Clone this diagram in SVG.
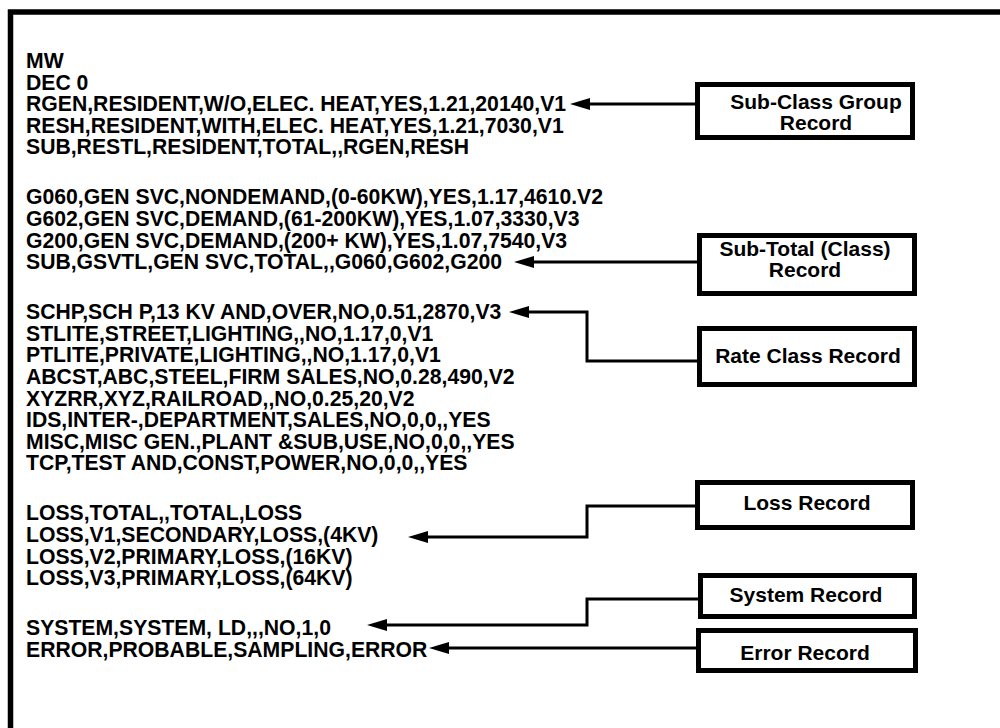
<svg xmlns="http://www.w3.org/2000/svg" width="1000" height="728" viewBox="0 0 1000 728">
<style>
  .t { font-family: "Liberation Sans", Arial, sans-serif; font-weight: bold; font-size: 21.2px; fill: #000; }
  .bt { font-family: "Liberation Sans", Arial, sans-serif; font-weight: bold; font-size: 21px; fill: #000; text-anchor: middle; }
  .box { fill: #fff; stroke: #000; stroke-width: 5; }
  .conn { fill: none; stroke: #000; stroke-width: 3; marker-end: url(#arr); }
</style>
<defs>
  <marker id="arr" markerUnits="userSpaceOnUse" markerWidth="20" markerHeight="12" refX="10" refY="6" orient="auto" viewBox="0 0 20 12">
    <path d="M0,0 L20,6 L0,12 Z" fill="#000"/>
  </marker>
</defs>
<rect x="0" y="0" width="1000" height="728" fill="#fff"/>
<path d="M10.5,728 V12 H1005" fill="none" stroke="#000" stroke-width="5.5"/>

<g id="records-text" class="t">
  <text x="26" y="68">MW</text>
  <text x="26" y="89.6">DEC 0</text>
  <text x="26" y="111.2">RGEN,RESIDENT,W/O,ELEC. HEAT,YES,1.21,20140,V1</text>
  <text x="26" y="132.8">RESH,RESIDENT,WITH,ELEC. HEAT,YES,1.21,7030,V1</text>
  <text x="26" y="154.4">SUB,RESTL,RESIDENT,TOTAL,,RGEN,RESH</text>
  <text x="26" y="204.4">G060,GEN SVC,NONDEMAND,(0-60KW),YES,1.17,4610.V2</text>
  <text x="26" y="226">G602,GEN SVC,DEMAND,(61-200KW),YES,1.07,3330,V3</text>
  <text x="26" y="247.6">G200,GEN SVC,DEMAND,(200+ KW),YES,1.07,7540,V3</text>
  <text x="26" y="269.2">SUB,GSVTL,GEN SVC,TOTAL,,G060,G602,G200</text>
  <text x="26" y="319.2">SCHP,SCH P,13 KV AND,OVER,NO,0.51,2870,V3</text>
  <text x="26" y="340.8">STLITE,STREET,LIGHTING,,NO,1.17,0,V1</text>
  <text x="26" y="362.4">PTLITE,PRIVATE,LIGHTING,,NO,1.17,0,V1</text>
  <text x="26" y="384">ABCST,ABC,STEEL,FIRM SALES,NO,0.28,490,V2</text>
  <text x="26" y="405.6">XYZRR,XYZ,RAILROAD,,NO,0.25,20,V2</text>
  <text x="26" y="427.2">IDS,INTER-,DEPARTMENT,SALES,NO,0,0,,YES</text>
  <text x="26" y="448.8">MISC,MISC GEN.,PLANT &amp;SUB,USE,NO,0,0,,YES</text>
  <text x="26" y="470.4">TCP,TEST AND,CONST,POWER,NO,0,0,,YES</text>
  <text x="26" y="520.4">LOSS,TOTAL,,TOTAL,LOSS</text>
  <text x="26" y="542">LOSS,V1,SECONDARY,LOSS,(4KV)</text>
  <text x="26" y="563.6">LOSS,V2,PRIMARY,LOSS,(16KV)</text>
  <text x="26" y="585.2">LOSS,V3,PRIMARY,LOSS,(64KV)</text>
  <text x="26" y="635.2">SYSTEM,SYSTEM, LD,,,NO,1,0</text>
  <text x="26" y="656.8">ERROR,PROBABLE,SAMPLING,ERROR</text>
</g>

<g id="connectors">
  <path class="conn" d="M698,104 H580"/>
  <path class="conn" d="M700,262 H524"/>
  <path class="conn" d="M700,361 H587 V312 H519"/>
  <path class="conn" d="M698,506 H587 V537 H418"/>
  <path class="conn" d="M701,599 H587 V625 H377"/>
  <path class="conn" d="M699,648 H439"/>
</g>

<g id="node-subclass">
  <rect class="box" x="697.5" y="84.5" width="215" height="53"/>
  <text class="bt" x="816" y="109">Sub-Class Group</text>
  <text class="bt" x="816" y="130">Record</text>
</g>
<g id="node-subtotal">
  <rect class="box" x="699.5" y="235.5" width="215" height="58"/>
  <text class="bt" x="805" y="256">Sub-Total (Class)</text>
  <text class="bt" x="805" y="277">Record</text>
</g>
<g id="node-rateclass">
  <rect class="box" x="699.5" y="328.5" width="215" height="56"/>
  <text class="bt" x="808" y="363">Rate Class Record</text>
</g>
<g id="node-loss">
  <rect class="box" x="697.5" y="482.5" width="215" height="45"/>
  <text class="bt" x="807" y="510">Loss Record</text>
</g>
<g id="node-system">
  <rect class="box" x="700.5" y="575.5" width="214" height="41"/>
  <text class="bt" x="806" y="602">System Record</text>
</g>
<g id="node-error">
  <rect class="box" x="698.5" y="630.5" width="217" height="40"/>
  <text class="bt" x="805" y="660">Error Record</text>
</g>
</svg>
